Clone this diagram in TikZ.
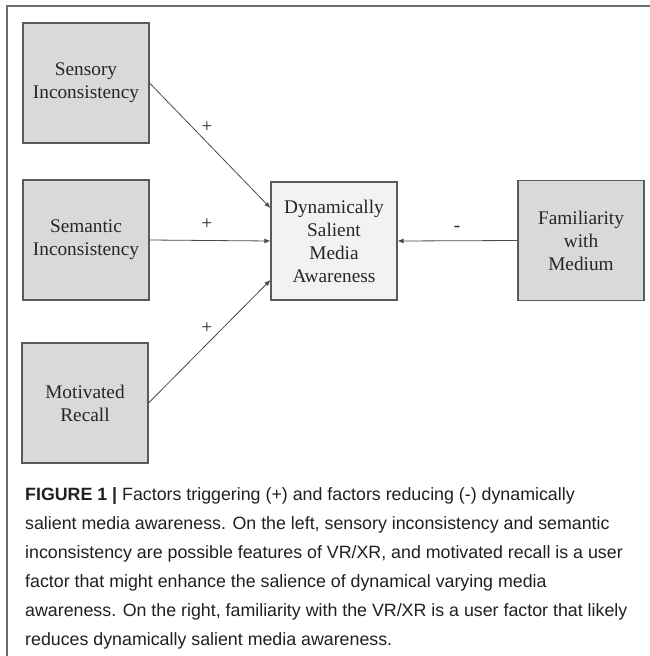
\documentclass[tikz,border=0pt]{standalone}
\usepackage{fontspec}
\setmainfont{Liberation Serif}
\newfontfamily\capfont{Liberation Sans}
\usetikzlibrary{arrows.meta}
\definecolor{sidefill}{HTML}{D9D9D9}
\definecolor{midfill}{HTML}{F2F2F2}
\definecolor{boxline}{HTML}{5A5A5A}
\definecolor{frameline}{HTML}{6E6E6E}
\definecolor{captxt}{HTML}{231F20}
\tikzset{
  factorbox/.style={draw=boxline, line width=1.1pt, fill=sidefill, minimum width=126pt, minimum height=120pt, inner sep=0pt, align=center, font=\fontsize{19.3}{23}\selectfont, text=black!85},
  centerbox/.style={factorbox, fill=midfill, minimum height=118pt},
  link/.style={draw=black!70, line width=0.8pt, -{Latex[length=6pt,width=5pt]}},
  signlabel/.style={font=\fontsize{19}{19}\selectfont, text=black!85},
  capline/.style={anchor=base west, inner sep=0pt, font=\capfont\fontsize{17.8}{29}\selectfont, text=captxt}
}
\begin{document}
\begin{tikzpicture}[x=1pt, y=-1pt]
\useasboundingbox (0,0) rectangle (650,656);
\fill[white] (0,0) rectangle (650,656);
% frame
\draw[frameline, line width=1.3pt] (650,6) -- (7,6) -- (7,656);
% boxes
\node[factorbox] (sens) at (86,83) {Sensory\\Inconsistency};
\node[factorbox] (sem) at (86,240) {Semantic\\Inconsistency};
\node[factorbox] (mot) at (85,403) {Motivated\\Recall};
\node[centerbox] (dsma) at (334,241) {Dynamically\\Salient\\Media\\Awareness};
\node[factorbox] (fam) at (581,240.5) {Familiarity\\with\\Medium};
% connectors
\draw[link] (sens.east) -- ([yshift=33pt]dsma.west);
\draw[link] (sem.east) -- (dsma.west);
\draw[link] (mot.east) -- ([yshift=-39pt]dsma.west);
\draw[link] (fam.west) -- (dsma.east);
% labels
\node[signlabel] (p1) at (207,127) {+};
\node[signlabel] (p2) at (207,224) {+};
\node[signlabel] (p3) at (207,328) {+};
\node[signlabel] (m1) at (457,229) {-};
% caption
\node[capline] (cap1) at (25,500) {\textbf{FIGURE 1 |} Factors triggering (+) and factors reducing (-) dynamically};
\node[capline] (cap2) at (25,529) {salient media awareness. On the left, sensory inconsistency and semantic};
\node[capline] (cap3) at (25,558) {inconsistency are possible features of VR/XR, and motivated recall is a user};
\node[capline] (cap4) at (25,587) {factor that might enhance the salience of dynamical varying media};
\node[capline] (cap5) at (25,616) {awareness. On the right, familiarity with the VR/XR is a user factor that likely};
\node[capline] (cap6) at (25,645) {reduces dynamically salient media awareness.};
\end{tikzpicture}
\end{document}
